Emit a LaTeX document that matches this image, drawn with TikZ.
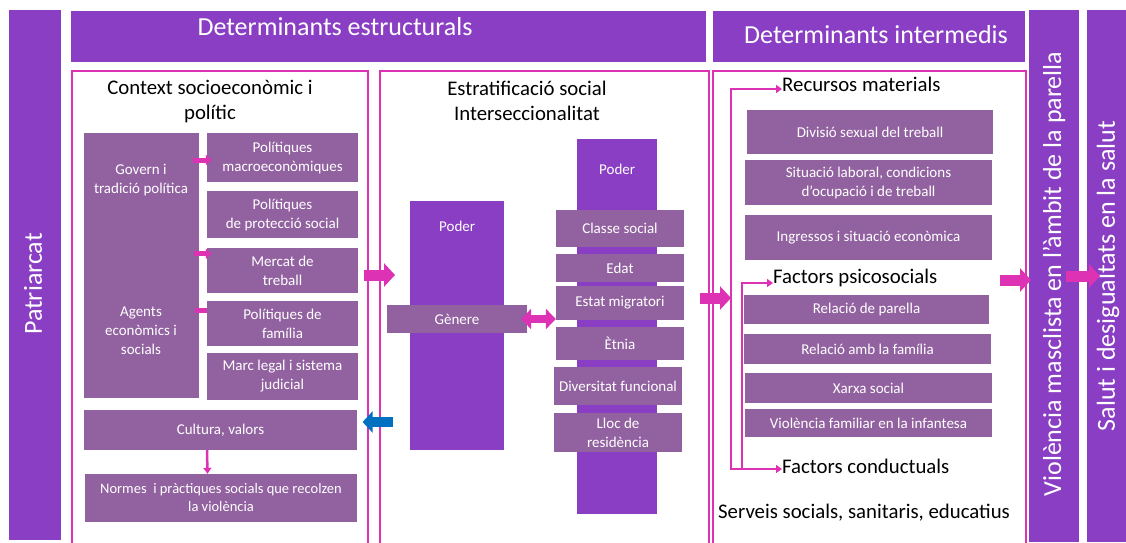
\documentclass[tikz,border=0pt]{standalone}
\usepackage{fontspec}
\setmainfont{Carlito}
\usetikzlibrary{arrows.meta,positioning}

\definecolor{barpurple}{RGB}{138,62,195}
\definecolor{boxpurple}{RGB}{146,98,160}
\definecolor{linkpink}{RGB}{222,50,180}
\definecolor{backblue}{RGB}{0,112,192}

\tikzset{
	bar/.style={fill=barpurple, draw=none, inner sep=0pt, anchor=north west},
	panel/.style={draw=linkpink, line width=1.6pt, inner sep=0pt, anchor=north west},
	factortext/.style={text=white, inner sep=0pt, align=center, font=\fontsize{15}{19}\selectfont},
	factor/.style={factortext, fill=boxpurple},
	bartext/.style={text=white, inner sep=0pt, font=\fontsize{26}{30}\selectfont},
	headtext/.style={inner sep=0pt, align=center, font=\fontsize{20.8}{25}\selectfont},
	bigarr/.style={draw=linkpink, line width=11pt, -{Triangle[length=11pt,width=23pt]}},
	backarr/.style={draw=backblue, line width=10pt, -{Triangle[length=10pt,width=21pt]}},
	dblarr/.style={draw=linkpink, line width=8pt, {Triangle[length=10pt,width=20pt]}-{Triangle[length=10pt,width=20pt]}},
	smallarr/.style={draw=linkpink, line width=5pt, -{Triangle[length=6pt,width=10pt]}},
	smallbar/.style={draw=linkpink, line width=5pt},
	thinarr/.style={draw=linkpink, line width=2.5pt, -{Triangle[length=6pt,width=8pt]}},
}

\begin{document}
\begin{tikzpicture}[x=1pt,y=-1pt]
	
	\useasboundingbox (0,0) rectangle (1126,542);
	\clip (0,0) rectangle (1126,542);
	\fill[white] (0,0) rectangle (1126,542);
	
	%%%%% Bars and headers %%%%%%
	\node[bar, minimum width=52, minimum height=530] (patri) at (9,10) {};
	\node[bartext, rotate=90] (patritext) at (33,284) {Patriarcat};
	\node[bar, minimum width=635, minimum height=51] (hdrS) at (71,11) {};
	\node[bartext] (hdrStext) at (335,27) {Determinants estructurals};
	\node[bar, minimum width=312, minimum height=51] (hdrI) at (713,11) {};
	\node[bartext] (hdrItext) at (876,35) {Determinants intermedis};
	\node[bar, minimum width=50, minimum height=532] (viol) at (1029,10) {};
	\node[bartext, rotate=90] (violtext) at (1054,274) {Violència masclista en l’àmbit de la parella};
	\node[bar, minimum width=45, minimum height=532] (salut) at (1087,10) {};
	\node[bartext, rotate=90] (saluttext) at (1108,276) {Salut i desigualtats en la salut};
	
	%%%%% Panels %%%%%%
	\node[panel, minimum width=296, minimum height=480] (panel1) at (71,70) {};
	\node[panel, minimum width=329, minimum height=480] (panel2) at (379,70) {};
	\node[panel, minimum width=313, minimum height=480] (panel3) at (712,70) {};
	
	%%%%% Context socioeconomic %%%%%%
	\node[headtext] (context) at (210,102) {Context socioeconòmic i\\polític};
	\node[factor, minimum width=115, minimum height=265] (govbox) at (141.5,265.5) {};
	\node[factortext] (govern) at (141,180) {Govern i\\tradició política};
	\node[factortext] (agents) at (141,331) {Agents\\econòmics i\\socials};
	\node[factor, minimum width=151, minimum height=49] (macro) at (282.5,157.5) {Polítiques\\macroeconòmiques};
	\node[factor, minimum width=151, minimum height=47] (proteccio) at (282.5,214.5) {Polítiques\\de protecció social};
	\node[factor, minimum width=151, minimum height=45] (mercat) at (282.5,270.5) {Mercat de\\treball};
	\node[factor, minimum width=151, minimum height=45] (familia) at (282.5,323.5) {Polítiques de\\família};
	\node[factor, minimum width=151, minimum height=47] (marc) at (282.5,376.5) {Marc legal i sistema\\judicial};
	\node[factor, minimum width=273, minimum height=40] (cultura) at (220.5,430) {Cultura, valors};
	\node[factor, minimum width=272, minimum height=48, font=\fontsize{14.5}{18}\selectfont] (normes) at (221,498) {Normes \ i pràctiques socials que recolzen\\la violència};
	
	\draw[smallarr] ([xshift=-14pt,yshift=-2.5pt]macro.west) -- ([xshift=5pt,yshift=-2.5pt]macro.west);
	\draw[smallarr] ([xshift=-13pt,yshift=-6pt]mercat.north west) -- ([xshift=5pt,yshift=-6pt]mercat.north west);
	\draw[smallbar] ([xshift=-12pt,yshift=-10pt]familia.north west) -- ([yshift=-10pt]familia.north west);
	\draw[thinarr] ([xshift=-13.5pt]cultura.south) -- ([xshift=-13.5pt]normes.north);
	
	%%%%% Estratificacio %%%%%%
	\node[headtext] (strat) at (527,101) {Estratificació social\\Interseccionalitat};
	\node[bar, minimum width=94, minimum height=249] (poderL) at (410,201) {};
	\node[factortext] (poderLtext) at ([yshift=-25pt]poderL.north) {Poder};
	\node[bar, minimum width=80, minimum height=375] (poderR) at (577,139) {};
	\node[factortext] (poderRtext) at ([yshift=-30pt]poderR.north) {Poder};
	\node[factor, minimum width=140, minimum height=28] (genere) at (457,319) {Gènere};
	\node[factor, minimum width=128, minimum height=37] (classe) at (620,228.5) {Classe social};
	\node[factor, minimum width=128, minimum height=28] (edat) at (620,268) {Edat};
	\node[factor, minimum width=128, minimum height=34] (estat) at (620,303) {Estat migratori};
	\node[factor, minimum width=128, minimum height=33] (etnia) at (620,343.5) {Ètnia};
	\node[factor, minimum width=128, minimum height=38] (divers) at (618,386) {Diversitat funcional};
	\node[factor, minimum width=128, minimum height=39] (lloc) at (618,432.5) {Lloc de\\residència};
	
	\draw[dblarr] ([xshift=-6pt]genere.east) -- (genere.east -| estat.west);
	
	%%%%% Determinants intermedis %%%%%%
	\node[headtext, anchor=west] (recursos) at (782,84) {Recursos materials};
	\node[factor, minimum width=246, minimum height=44] (divisio) at (870,132) {Divisió sexual del treball};
	\node[factor, minimum width=247, minimum height=45] (situacio) at (868.5,182.5) {Situació laboral, condicions\\d’ocupació i de treball};
	\node[factor, minimum width=247, minimum height=45] (ingressos) at (868.5,237.5) {Ingressos i situació econòmica};
	\node[headtext, anchor=west] (psico) at (773,278) {Factors psicosocials};
	\node[factor, minimum width=245, minimum height=29] (parella) at (866.5,309.5) {Relació de parella};
	\node[factor, minimum width=247, minimum height=30] (relfam) at (867.5,349) {Relació amb la família};
	\node[factor, minimum width=247, minimum height=30] (xarxa) at (868.5,388) {Xarxa social};
	\node[factor, minimum width=247, minimum height=28] (infantesa) at (868.5,423) {Violència familiar en la infantesa};
	\node[headtext, anchor=west] (conduct) at (782,466) {Factors conductuals};
	\node[headtext] (serveis) at (864,513) {Serveis socials, sanitaris, educatius};
	
	\coordinate (trunk) at (731,469);
	\coordinate (branch) at (742,469);
	\draw[thinarr, {Triangle[length=6pt,width=8pt]}-{Triangle[length=6pt,width=8pt]}] ([yshift=-5pt]recursos.west) -| (trunk) -- ([yshift=-3pt]conduct.west);
	\draw[thinarr] (branch) |- ([yshift=-5pt]psico.west);
	
	%%%%% Arrows %%%%%%
	\draw[bigarr] ([xshift=-5pt,yshift=-205pt]panel1.north east) -- ([xshift=16pt,yshift=-205pt]panel2.north west);
	\draw[backarr] ([xshift=14pt,yshift=-352pt]panel2.north west) -- ([xshift=-6pt,yshift=-352pt]panel1.north east);
	\draw[bigarr] ([xshift=-10pt,yshift=-228pt]panel2.north east) -- ([yshift=171pt]trunk);
	\draw[bigarr] ([xshift=-27pt,yshift=-210pt]panel3.north east) -- ([xshift=2pt,yshift=-270pt]viol.north west);
	\draw[bigarr] ([xshift=-13pt,yshift=-266pt]viol.north east) -- ([xshift=13pt,yshift=-266pt]salut.north west);
	
\end{tikzpicture}
\end{document}
